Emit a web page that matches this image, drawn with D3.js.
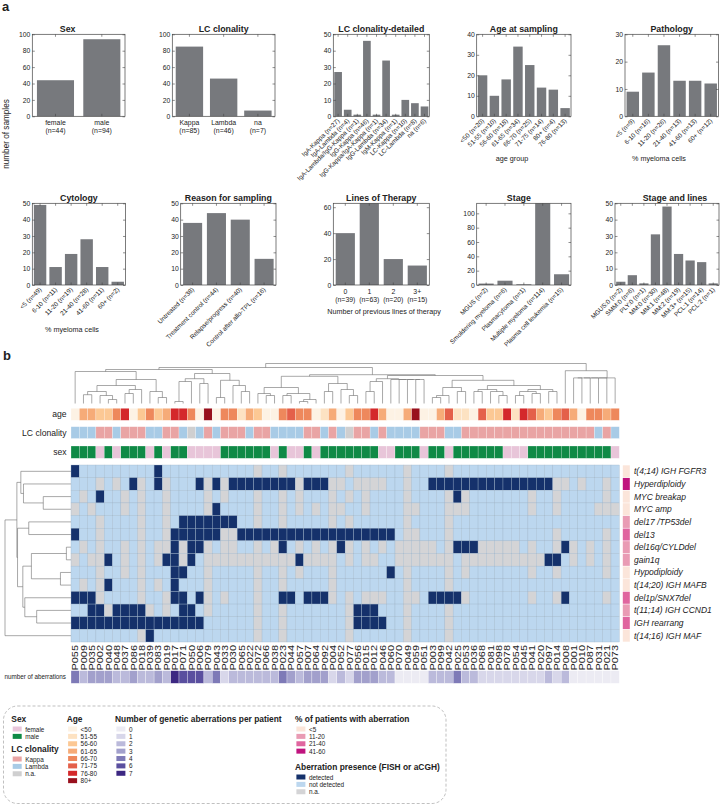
<!DOCTYPE html>
<html>
<head>
<meta charset="utf-8">
<script src="https://cdn.jsdelivr.net/npm/d3@7"></script>
<style>
  body { margin: 0; background: #fff; }
  text { font-family: Arial, 'Liberation Sans', Helvetica, sans-serif; fill: #222; }
</style>
</head>
<body>
<script>
// ---------- panel a data ----------
const sexLabels = ['female (n=44)', 'male (n=94)']
const sexValues = [44, 94]
const lcLabels = ['Kappa (n=85)', 'Lambda (n=46)', 'na (n=7)']
const lcValues = [85, 46, 7]
const lcDetLabels = ['IgA-Kappa (n=27)', 'IgA-Lambda (n=4)', 'IgA-Lambda/IgG-Kappa (n=1)', 'IgG-Kappa (n=46)',
  'IgG-Kappa/IgA-Kappa (n=1)', 'IgG-Lambda (n=34)', 'IgM-Kappa (n=1)', 'LC-Kappa (n=10)', 'LC-Lambda (n=8)', 'na (n=6)']
const lcDetValues = [27, 4, 1, 46, 1, 34, 1, 10, 8, 6]
const ageLabels = ['<50 (n=20)', '51-55 (n=10)', '56-60 (n=18)', '61-65 (n=34)', '66-70 (n=25)', '71-75 (n=14)', '80+ (n=4)', '76-80 (n=13)']
const ageValues = [20, 10, 18, 34, 25, 14, 13, 4]
const pathLabels = ['<5 (n=9)', '6-10 (n=16)', '11-20 (n=26)', '21-40 (n=13)', '41-60 (n=13)', '60+ (n=12)']
const pathValues = [9, 16, 26, 13, 13, 12]
const cytoLabels = ['<5 (n=49)', '6-10 (n=11)', '11-20 (n=19)', '21-40 (n=28)', '41-60 (n=11)', '60+ (n=2)']
const cytoValues = [49, 11, 19, 28, 11, 2]
const reasonLabels = ['Untreated (n=38)', 'Treatment control (n=44)', 'Relapse/progress (n=40)', 'Control after allo-TPL (n=16)']
const reasonValues = [38, 44, 40, 16]
const linesLabels = ['0 (n=39)', '1 (n=63)', '2 (n=20)', '3+ (n=15)']
const linesValues = [40, 63, 20, 15]
const stageLabels = ['MGUS (n=2)', 'Smoldering myeloma (n=6)', 'Plasmacytoma (n=1)', 'Multiple myeloma (n=114)', 'Plasma cell leukemia (n=15)']
const stageValues = [2, 6, 1, 114, 15]
const stageLinesLabels = ['MGUS:0 (n=2)', 'SMM:0 (n=6)', 'PLY:0 (n=1)', 'MM:0 (n=30)', 'MM:1 (n=48)', 'MM:2 (n=19)', 'MM:3+ (n=15)', 'PCL:1 (n=14)', 'PCL:2 (n=1)']
const stageLinesValues = [2, 6, 1, 31, 48, 19, 15, 14, 1]

// ---------- panel b data ----------
const patients = ['P055','P009','P035','P002','P040','P048','P037','P086','P018','P039','P083','P019','P017','P071','P050','P006',
  'P079','P043','P033','P030','P065','P022','P072','P066','P038','P023','P044','P057','P007','P064','P092','P004','P052','P077',
  'P056','P015','P012','P046','P060','P070','P049','P059','P051','P003','P099','P042','P025','P053','P036','P068','P081','P098',
  'P078','P054','P045','P041','P020','P097','P014','P008','P001','P010','P087','P031','P021','P073']
const aberrations = ['t(4;14) IGH FGFR3', 'Hyperdiploidy', 'MYC breakap', 'MYC amp', 'del17 /TP53del', 'del13', 'del16q/CYLDdel',
  'gain1q', 'Hypodiploidy', 't(14;20) IGH MAFB', 'del1p/SNX7del', 't(11;14) IGH CCND1', 'IGH rearrang', 't(14;16) IGH MAF']

// column indices (patient order) per aberration row
const detectedCells = [
  [0, 10],
  [7, 10, 15, 17, 19, 20, 21, 22, 23, 24, 25, 26, 28, 29, 30, 43, 44, 45, 46, 47, 48, 49, 50, 51, 52, 53, 54, 55, 56, 57],
  [3, 46],
  [17],
  [13, 14, 15, 16, 17, 18, 19],
  [0, 12, 13, 14, 15, 16, 17, 20, 21, 22, 23, 24, 25, 26, 27, 28, 29, 30, 31, 32, 33, 34, 35, 36, 37, 38],
  [12, 14, 15, 25, 32, 46, 47, 48, 59],
  [4, 11, 12, 14, 27, 57, 58],
  [12, 13, 38],
  [4, 12],
  [0, 1, 2, 12, 13, 15, 25, 26, 28, 29, 30, 43, 44, 45, 46, 59],
  [2, 3, 5, 6, 7, 8, 13, 14, 34, 35, 36],
  [0, 1, 2, 3, 4, 5, 6, 7, 8, 9, 10, 11, 12, 13, 14, 15, 34, 35, 36, 37],
  [9]
]
const naCells = [
  [22, 25, 33, 40, 45],
  [3, 5, 8, 11, 16, 18, 27, 31, 32, 34, 35, 36, 37, 40, 58, 59, 61, 64],
  [1, 6, 8, 11, 16, 18, 22, 25, 27, 31, 33, 35, 40, 45, 47, 55, 58, 64],
  [0, 2, 6, 8, 11, 16, 22, 25, 27, 29, 31, 32, 35, 40, 41, 45, 46, 47, 55, 58, 63, 64, 65],
  [3, 8, 11, 22, 25, 31, 33, 40, 45],
  [3, 8, 11, 18, 19, 40, 41, 45, 58, 64],
  [1, 3, 6, 8, 10, 11, 13, 16, 18, 19, 22, 24, 27, 29, 31, 33, 35, 37, 39, 40, 41, 42, 43, 45, 49, 50, 51, 52, 53, 55, 58, 60, 62, 64],
  [0, 2, 3, 6, 8, 10, 13, 16, 17, 18, 19, 20, 21, 22, 23, 24, 25, 26, 28, 29, 30, 31, 33, 35, 36, 39, 40, 41, 42, 43, 44, 45,
    47, 48, 49, 50, 51, 52, 53, 54, 55, 56, 60, 62, 64],
  [3, 6, 8, 16, 22, 25, 27, 31, 40, 45, 47, 55, 58, 64],
  [1, 3, 8, 10, 16, 22, 25, 31, 40, 45],
  [3, 8, 11, 16, 18, 22, 31, 33, 35, 36, 37, 40, 41, 47, 55, 58, 64],
  [4, 9, 11, 16, 22, 25, 33, 40, 45],
  [22, 25, 33, 40, 45],
  [8, 22, 25, 33, 40, 45]
]
const pctCategory = ['<5', '41-60', '<5', '<5', '11-20', '21-40', '11-20', '11-20', '<5', '<5', '21-40', '11-20', '21-40', '<5']

// per patient annotations (index into legend lists)
const agePerPatient = [0,3,3,2,2,4,6,0,2,4, 2,3,6,6,4,0,7,0,4,4, 1,3,2,0,0,4,5,4,4,0, 1,3,0,2,4,4,6,3,0,0,
  3,7,0,0,3,5,1,1,0,5, 2,2,6,1,6,5,3,2,4,5, 3,0,4,4,3,4]
const lcPerPatient = 'LLLKKLKKKLLKKLNLKLKKKLKKLLLLKKLKLNK' + 'KLKLLLLKKKLLKKKKKKKKKKKKKKKKLKL'
const sexPerPatient = 'MMMFMFMMMFMFMMFFFFMMMMMMFMFFMF' + 'MMMMMMMFFMMMFMMFMMMMMMFFFMMMMMMMMMMF'

// dendrograms: [height, left, right], leaves = index
const colTree = [1.0,
  [0.9,
    [0.85,
      [0.80, 0, [0.6, [0.45, [0.3, [0.22, 1, 2], [0.2, 3, [0.1, 4, 5]]], [0.35, [0.25, 6, 7], 8]], [0.3, 9, [0.15, 10, 11]]]],
      [0.75, [0.62, [0.55, [0.05, 12, 13], 14], [0.5, 15, 16]], [0.58, [0.15, 17, 18], [0.45, 19, [0.3, 20, 21]]]]],
    [0.72,
      [0.68, [0.4, [0.25, 22, [0.2, 23, 24]], [0.25, [0.2, 25, 26], [0.1, [0.05, 27, 28], 29]]],
        [0.5, [0.3, 30, 31], [0.35, 32, [0.2, 33, 34]]]],
      [0.7, [0.62, [0.55, [0.3, 35, 36], 37], [0.6, 38, [0.6, 39, [0.6, 40, [0.6, 41, 42]]]]],
        [0.58, [0.4, [0.2, [0.15, 43, 44], 45], [0.3, 46, 47]],
          [0.45, [0.35, [0.3, 48, 49], [0.3, 50, [0.2, 51, 52]]], [0.35, [0.3, [0.2, 53, 54], [0.25, 55, 56]], [0.3, 57, 58]]]]]]],
  [0.82, 59, [0.64, [0.64, [0.64, [0.64, [0.64, 60, 61], 62], 63], 64], 65]]]
const rowTree = [1.0,
  [0.82,
    [0.76, 0, [0.72, 1, [0.42, 2, 3]]],
    [0.81, [0.64, 4, 5], [0.73, [0.6, [0.07, 6, 7], [0.16, 8, 9]], [0.70, 10, [0.52, 11, 12]]]]],
  13]

// legend lists
const sexLegend = ['female', 'male']
const lcLegend = ['Kappa', 'Lambda', 'n.a.']
const ageLegend = ['<50', '51-55', '56-60', '61-65', '66-70', '71-75', '76-80', '80+']
const countLegend = [0, 1, 2, 3, 4, 6, 7]
const pctLegend = ['<5', '11-20', '21-40', '41-60']
const presenceLegend = ['detected', 'not detected', 'n.a.']

// ---------- colours ----------
const barColor = '#77797d'
const sexColor = d3.scaleOrdinal().domain(sexLegend).range(['#e8c5d9', '#0f8a46'])
const lcColor = d3.scaleOrdinal().domain(lcLegend).range(['#e9a4a4', '#a8cbe6', '#cfcfd0'])
const ageColor = d3.scaleOrdinal().domain(ageLegend)
  .range(['#fdf2e4', '#fde2c2', '#fcc894', '#f6ab78', '#ee885c', '#e4604a', '#d4282b', '#98101d'])
const countColor = d3.scaleOrdinal().domain(countLegend)
  .range(['#ecebf3', '#d8d7ea', '#bbbadb', '#a2a0cc', '#7e7ab7', '#5a4f9f', '#3c2782'])
const pctColor = d3.scaleOrdinal().domain(pctLegend).range(['#fbe5da', '#e99bb4', '#e0659f', '#c0137e'])
const presenceColor = d3.scaleOrdinal().domain(presenceLegend).range(['#15316b', '#bcd7ef', '#d4d4d6'])

const svg = d3.select('body').append('svg').attr('width', 721).attr('height', 805)

svg.append('text').text('a').attr('x', 2).attr('y', 11).attr('font-size', 13).attr('font-weight', 'bold')
svg.append('text').text('b').attr('x', 3).attr('y', 360).attr('font-size', 13).attr('font-weight', 'bold')

// ---------- panel a ----------
const rows = [{ top: 34.3, bottom: 116.3 }, { top: 203.3, bottom: 285 }]
const panels = [
  { title: 'Sex', labels: sexLabels, values: sexValues, yMax: 100, ticks: [0, 20, 40, 60, 80, 100], x0: 32.3, x1: 125, row: 0, rotate: false, titleDx: -11 },
  { title: 'LC clonality', labels: lcLabels, values: lcValues, yMax: 100, ticks: [0, 20, 40, 60, 80, 100], x0: 172.3, x1: 275, row: 0, rotate: false },
  { title: 'LC clonality-detailed', labels: lcDetLabels, values: lcDetValues, yMax: 50, ticks: [0, 10, 20, 30, 40, 50], x0: 333.3, x1: 429.3, row: 0, rotate: true },
  { title: 'Age at sampling', labels: ageLabels, values: ageValues, yMax: 40, ticks: [0, 10, 20, 30, 40], x0: 476.7, x1: 571, row: 0, rotate: true, xTitle: 'age group', xTitleX: 512, xTitleY: 160.5 },
  { title: 'Pathology', labels: pathLabels, values: pathValues, yMax: 30, ticks: [0, 10, 20, 30], x0: 625, x1: 718.5, row: 0, rotate: true, xTitle: '% myeloma cells', xTitleX: 659, xTitleY: 160.5 },
  { title: 'Cytology', labels: cytoLabels, values: cytoValues, yMax: 50, ticks: [0, 10, 20, 30, 40, 50], x0: 32.3, x1: 125.5, row: 1, rotate: true, xTitle: '% myeloma cells', xTitleX: 72, xTitleY: 331.5 },
  { title: 'Reason for sampling', labels: reasonLabels, values: reasonValues, yMax: 50, ticks: [0, 10, 20, 30, 40, 50], x0: 180.7, x1: 276, row: 1, rotate: true },
  { title: 'Lines of Therapy', labels: linesLabels, values: linesValues, yMax: 63, ticks: [0, 20, 40, 60], x0: 333.3, x1: 429.3, row: 1, rotate: false, xTitle: 'Number of previous lines of therapy', xTitleX: 384, xTitleY: 314 },
  { title: 'Stage', labels: stageLabels, values: stageValues, yMax: 114, ticks: [0, 20, 40, 60, 80, 100], x0: 476.7, x1: 571, row: 1, rotate: true, titleDx: -5 },
  { title: 'Stage and lines', labels: stageLinesLabels, values: stageLinesValues, yMax: 50, ticks: [0, 10, 20, 30, 40, 50], x0: 615, x1: 719, row: 1, rotate: true, titleDx: 8 }
]

panels.forEach(p => {
  const r = rows[p.row]
  const g = svg.append('g').attr('class', 'panel')
  const x = d3.scaleBand().domain(p.labels).range([p.x0, p.x1]).paddingInner(0.2).paddingOuter(0.1)
  const y = d3.scaleLinear().domain([0, p.yMax]).range([r.bottom, r.top])

  g.selectAll('.bar')
    .data(p.values)
    .enter()
    .append('rect')
    .attr('class', 'bar')
    .attr('x', (d, i) => x(p.labels[i]))
    .attr('width', x.bandwidth())
    .attr('y', d => y(d))
    .attr('height', d => y(0) - y(d))
    .attr('fill', barColor)

  const axes = [
    [d3.axisLeft(y).tickValues(p.ticks).tickSize(-2.5).tickPadding(2), `translate(${p.x0},0)`],
    [d3.axisRight(y).tickValues(p.ticks).tickSize(-2.5).tickFormat(''), `translate(${p.x1},0)`],
    [d3.axisBottom(x).tickSize(-2.5).tickFormat(''), `translate(0,${r.bottom})`],
    [d3.axisTop(x).tickSize(-2.5).tickFormat(''), `translate(0,${r.top})`]
  ]
  axes.forEach(a => {
    const ag = g.append('g').attr('transform', a[1]).call(a[0])
    ag.select('.domain').remove()
    ag.selectAll('line').attr('stroke', '#444').attr('stroke-width', 0.6)
    ag.selectAll('text').attr('font-size', 6.8).attr('fill', '#333')
      .attr('font-family', "Arial, 'Liberation Sans', sans-serif")
  })

  g.append('rect')
    .attr('x', p.x0).attr('y', r.top)
    .attr('width', p.x1 - p.x0).attr('height', r.bottom - r.top)
    .attr('fill', 'none').attr('stroke', '#444').attr('stroke-width', 0.7)

  g.append('text').text(p.title)
    .attr('x', (p.x0 + p.x1) / 2 + (p.titleDx || 0)).attr('y', r.top - 2.3)
    .attr('text-anchor', 'middle').attr('font-size', 8.8).attr('font-weight', 'bold')

  if (p.rotate) {
    g.selectAll('.xlab')
      .data(p.labels)
      .enter()
      .append('text')
      .attr('class', 'xlab')
      .text(d => d)
      .attr('transform', d => `translate(${x(d) + x.bandwidth() / 2 + 2},${r.bottom + 5}) rotate(-45)`)
      .attr('text-anchor', 'end')
      .attr('font-size', 6.4)
      .attr('fill', '#333')
  } else {
    const lab = g.selectAll('.xlab')
      .data(p.labels)
      .enter()
      .append('text')
      .attr('class', 'xlab')
      .attr('text-anchor', 'middle')
      .attr('font-size', 6.9)
      .attr('fill', '#333')
    lab.append('tspan').text(d => d.split(' (')[0])
      .attr('x', d => x(d) + x.bandwidth() / 2).attr('y', r.bottom + 9)
    lab.append('tspan').text(d => '(' + d.split(' (')[1])
      .attr('x', d => x(d) + x.bandwidth() / 2).attr('y', r.bottom + 17)
  }

  if (p.xTitle) {
    g.append('text').text(p.xTitle)
      .attr('x', p.xTitleX).attr('y', p.xTitleY)
      .attr('text-anchor', 'middle').attr('font-size', 7.2).attr('fill', '#333')
  }
})

svg.append('text').text('number of samples')
  .attr('transform', 'translate(9,134) rotate(-90)')
  .attr('text-anchor', 'middle').attr('font-size', 8.2).attr('fill', '#333')

// ---------- panel b: heatmap ----------
const colX = d3.scaleBand().domain(patients).range([71, 619.3])
const rowY = d3.scaleBand().domain(aberrations).range([465, 642])

// dendrograms
function layoutTree(node, pos, links) {
  if (typeof node === 'number') return { p: pos(node), h: 0 }
  const a = layoutTree(node[1], pos, links)
  const b = layoutTree(node[2], pos, links)
  links.push({ a, b, h: node[0] })
  return { p: (a.p + b.p) / 2, h: node[0] }
}

const topLinks = []
layoutTree(colTree, i => colX(patients[i]) + colX.bandwidth() / 2, topLinks)
const topY = d3.scaleLinear().domain([0, 1]).range([403.5, 363.5])
svg.append('g')
  .selectAll('path')
  .data(topLinks)
  .enter()
  .append('path')
  .attr('d', d => `M${d.a.p},${topY(d.a.h)}V${topY(d.h)}H${d.b.p}V${topY(d.b.h)}`)
  .attr('fill', 'none').attr('stroke', '#6f6f6f').attr('stroke-width', 0.6)

const leftLinks = []
layoutTree(rowTree, i => rowY(aberrations[i]) + rowY.bandwidth() / 2, leftLinks)
const leftX = d3.scaleLinear().domain([0, 1]).range([71, 5])
svg.append('g')
  .selectAll('path')
  .data(leftLinks)
  .enter()
  .append('path')
  .attr('d', d => `M${leftX(d.a.h)},${d.a.p}H${leftX(d.h)}V${d.b.p}H${leftX(d.b.h)}`)
  .attr('fill', 'none').attr('stroke', '#6f6f6f').attr('stroke-width', 0.6)

// annotation rows
const annoRows = [
  { name: 'age', y0: 408.3, y1: 420.3, color: (p, i) => ageColor(ageLegend[agePerPatient[i]]) },
  { name: 'LC clonality', y0: 426.7, y1: 438.5, color: (p, i) => lcColor({ K: 'Kappa', L: 'Lambda', N: 'n.a.' }[lcPerPatient[i]]) },
  { name: 'sex', y0: 446, y1: 458.3, color: (p, i) => sexColor(sexPerPatient[i] === 'M' ? 'male' : 'female') }
]
annoRows.forEach(a => {
  svg.append('g')
    .selectAll('rect')
    .data(patients)
    .enter()
    .append('rect')
    .attr('x', d => colX(d)).attr('width', colX.bandwidth())
    .attr('y', a.y0).attr('height', a.y1 - a.y0)
    .attr('fill', (d, i) => a.color(d, i))
    .attr('stroke', '#ffffff').attr('stroke-width', 0.25)
  svg.append('text').text(a.name)
    .attr('x', 66.5).attr('y', (a.y0 + a.y1) / 2 + 3)
    .attr('text-anchor', 'end').attr('font-size', 8.6).attr('fill', '#333')
})

// main cells
const cells = []
aberrations.forEach((a, r) => {
  patients.forEach((p, c) => {
    let state = 'not detected'
    if (naCells[r].includes(c)) state = 'n.a.'
    if (detectedCells[r].includes(c)) state = 'detected'
    cells.push({ a, p, state })
  })
})
svg.append('g')
  .selectAll('rect')
  .data(cells)
  .enter()
  .append('rect')
  .attr('x', d => colX(d.p)).attr('width', colX.bandwidth())
  .attr('y', d => rowY(d.a)).attr('height', rowY.bandwidth())
  .attr('fill', d => presenceColor(d.state))
  .attr('stroke', '#9fb5c9').attr('stroke-width', 0.35)

// % of patients column + row labels
svg.append('g')
  .selectAll('rect')
  .data(aberrations)
  .enter()
  .append('rect')
  .attr('x', 622.8).attr('width', 7)
  .attr('y', d => rowY(d) + 0.3).attr('height', rowY.bandwidth() - 0.6)
  .attr('fill', (d, i) => pctColor(pctCategory[i]))
svg.append('g')
  .selectAll('text')
  .data(aberrations)
  .enter()
  .append('text')
  .text(d => d)
  .attr('x', 634).attr('y', d => rowY(d) + rowY.bandwidth() / 2 + 3)
  .attr('font-size', 8.5).attr('font-style', 'italic').attr('fill', '#333')

// patient labels
svg.append('g')
  .selectAll('text')
  .data(patients)
  .enter()
  .append('text')
  .text(d => d)
  .attr('transform', d => `translate(${colX(d) + colX.bandwidth() / 2 + 3.2},645) rotate(-90)`)
  .attr('text-anchor', 'end')
  .attr('font-size', 8.8)
  .attr('textLength', 25.5).attr('lengthAdjust', 'spacingAndGlyphs')
  .attr('fill', '#444')

// number of aberrations row
const counts = patients.map((p, c) => detectedCells.filter(row => row.includes(c)).length)
svg.append('g')
  .selectAll('rect')
  .data(patients)
  .enter()
  .append('rect')
  .attr('x', d => colX(d)).attr('width', colX.bandwidth())
  .attr('y', 670.7).attr('height', 12.6)
  .attr('fill', (d, i) => countColor(counts[i]))
  .attr('stroke', '#ffffff').attr('stroke-width', 0.3)
svg.append('text').text('number of aberrations')
  .attr('x', 66).attr('y', 679.2).attr('text-anchor', 'end')
  .attr('font-size', 6.3).attr('fill', '#333')

// ---------- legend ----------
svg.append('rect')
  .attr('x', 3.5).attr('y', 706).attr('width', 442.5).attr('height', 97.5)
  .attr('rx', 14).attr('ry', 14)
  .attr('fill', 'none').attr('stroke', '#a5a5a5').attr('stroke-width', 0.7).attr('stroke-dasharray', '3,2')

const legendBlocks = [
  { title: 'Sex', items: sexLegend, color: sexColor, x: 11.3, y: 722 },
  { title: 'LC clonality', items: lcLegend, color: lcColor, x: 11.3, y: 752 },
  { title: 'Age', items: ageLegend, color: ageColor, x: 66.7, y: 722 },
  { title: 'Number of genetic aberrations per patient', items: countLegend, color: countColor, x: 115, y: 722 },
  { title: '% of patients with aberration', items: pctLegend, color: pctColor, x: 295, y: 722 },
  { title: 'Aberration presence (FISH or aCGH)', items: presenceLegend, color: presenceColor, x: 295, y: 770 }
]
legendBlocks.forEach(b => {
  const g = svg.append('g').attr('transform', `translate(${b.x},${b.y})`)
  g.append('text').text(b.title).attr('x', 0).attr('y', 0)
    .attr('font-size', 8.4).attr('font-weight', 'bold')
  const item = g.selectAll('.item')
    .data(b.items)
    .enter()
    .append('g')
    .attr('class', 'item')
    .attr('transform', (d, i) => `translate(1.4,${7 + i * 7.38})`)
  item.append('rect')
    .attr('x', 0).attr('y', -2.5).attr('width', 9).attr('height', 5)
    .attr('fill', d => b.color(d))
  item.append('text').text(d => d)
    .attr('x', 12.5).attr('y', 2.5)
    .attr('font-size', 6.4).attr('fill', '#333')
})
</script>
</body>
</html>
